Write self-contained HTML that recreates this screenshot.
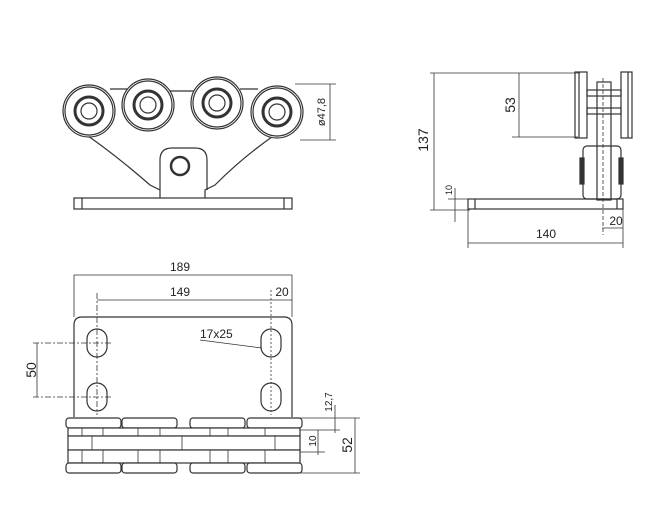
<!DOCTYPE html>
<html><head><style>body{margin:0;background:#fff}svg{display:block}text{font-family:"Liberation Sans",sans-serif;fill:#222}</style></head><body>
<svg width="650" height="520" viewBox="0 0 650 520" fill="none" stroke="#333" stroke-width="1.2">
<!-- top view -->
<path d="M72 125 Q110 150 150 185 L160 190 L160 198 M290 125 Q250 150 215 185 L205 190 L205 198"/>
<path d="M160 190 L160 160 Q160 148 172 148 L195 148 Q207 148 207 160 L207 190"/>
<line x1="110" y1="89" x2="128" y2="89"/><line x1="170" y1="91" x2="195" y2="91"/><line x1="240" y1="89" x2="258" y2="89"/>
<g fill="#fff">
<circle cx="89" cy="111" r="26"/><circle cx="148" cy="105" r="26"/><circle cx="217" cy="103" r="26"/><circle cx="277" cy="112" r="26"/>
</g>
<g>
<circle cx="89" cy="111" r="24"/><circle cx="148" cy="105" r="24"/><circle cx="217" cy="103" r="24"/><circle cx="277" cy="112" r="24"/>
<g stroke-width="3"><circle cx="89" cy="111" r="14"/><circle cx="148" cy="105" r="14"/><circle cx="217" cy="103" r="14"/><circle cx="277" cy="112" r="14"/></g>
<circle cx="89" cy="111" r="8"/><circle cx="148" cy="105" r="8"/><circle cx="217" cy="103" r="8"/><circle cx="277" cy="112" r="8"/>
</g>
<circle cx="180" cy="166" r="9" stroke-width="2.5"/>
<rect x="74" y="198" width="218" height="11"/><line x1="82" y1="198" x2="82" y2="209"/><line x1="284" y1="198" x2="284" y2="209"/>
<line x1="295" y1="84" x2="336" y2="84" stroke-width="0.8"/><line x1="300" y1="140" x2="336" y2="140" stroke-width="0.8"/>
<line x1="330" y1="84" x2="330" y2="140" stroke-width="0.8"/>
<text x="325" y="112" font-size="11" stroke="none" transform="rotate(-90 325 112)" text-anchor="middle">ø47,8</text>
<!-- side view -->
<g stroke-width="0.8">
<line x1="430" y1="73" x2="580" y2="73"/><line x1="434" y1="73" x2="434" y2="210"/><line x1="430" y1="210" x2="470" y2="210"/>
<line x1="519" y1="73" x2="519" y2="137"/><line x1="512" y1="137" x2="578" y2="137"/>
<line x1="455" y1="188" x2="455" y2="222"/><line x1="448" y1="199" x2="468" y2="199"/>
<line x1="468" y1="209" x2="468" y2="248"/><line x1="623" y1="209" x2="623" y2="248"/><line x1="468" y1="243" x2="623" y2="243"/>
<line x1="602" y1="228" x2="623" y2="228"/>
<line x1="603" y1="78" x2="603" y2="235" stroke-dasharray="4 2"/>
</g>
<text x="428" y="140" font-size="14" stroke="none" transform="rotate(-90 428 140)" text-anchor="middle">137</text>
<text x="515" y="105" font-size="14" stroke="none" transform="rotate(-90 515 105)" text-anchor="middle">53</text>
<text x="452" y="190" font-size="9" stroke="none" transform="rotate(-90 452 190)" text-anchor="middle">10</text>
<text x="546" y="238" font-size="12" stroke="none" text-anchor="middle">140</text>
<text x="616" y="225" font-size="12" stroke="none" text-anchor="middle">20</text>
<rect x="575" y="72" width="12" height="66"/><line x1="579" y1="72" x2="579" y2="138"/>
<rect x="621" y="72" width="11" height="66"/><line x1="628" y1="72" x2="628" y2="138"/>
<rect x="587" y="90" width="34" height="6"/><rect x="587" y="108" width="34" height="6"/>
<rect x="597" y="82" width="14" height="118"/>
<rect x="583" y="146" width="38" height="53" rx="4"/><rect x="580" y="158" width="4" height="26" fill="#333"/><rect x="619" y="158" width="4" height="26" fill="#333"/>
<rect x="468" y="199" width="155" height="10"/><line x1="475" y1="199" x2="475" y2="209"/><line x1="617" y1="199" x2="617" y2="209"/>
<!-- bottom view -->
<g stroke-width="0.8">
<line x1="74" y1="275" x2="74" y2="317"/><line x1="292" y1="275" x2="292" y2="317"/><line x1="74" y1="275" x2="292" y2="275"/>
<line x1="97" y1="300" x2="292" y2="300"/>
<line x1="97" y1="293" x2="97" y2="415" stroke-dasharray="6 2 2 2"/><line x1="271" y1="290" x2="271" y2="415" stroke-dasharray="2 2"/>
<line x1="33" y1="343" x2="112" y2="343" stroke-dasharray="6 2 2 2"/><line x1="33" y1="397" x2="112" y2="397" stroke-dasharray="6 2 2 2"/>
<line x1="37" y1="343" x2="37" y2="397"/>
<line x1="200" y1="340" x2="262" y2="348"/>
<line x1="300" y1="418" x2="360" y2="418"/><line x1="300" y1="473" x2="360" y2="473"/><line x1="355" y1="418" x2="355" y2="473"/>
<line x1="335" y1="405" x2="335" y2="433"/><line x1="300" y1="430" x2="340" y2="430"/>
<line x1="318" y1="430" x2="318" y2="455"/><line x1="300" y1="452" x2="325" y2="452"/>
</g>
<text x="180" y="271" font-size="12" stroke="none" text-anchor="middle">189</text>
<text x="180" y="296" font-size="12" stroke="none" text-anchor="middle">149</text>
<text x="282" y="296" font-size="12" stroke="none" text-anchor="middle">20</text>
<text x="200" y="338" font-size="12" stroke="none">17x25</text>
<text x="36" y="370" font-size="14" stroke="none" transform="rotate(-90 36 370)" text-anchor="middle">50</text>
<text x="332" y="402" font-size="10" stroke="none" transform="rotate(-90 332 402)" text-anchor="middle">12,7</text>
<text x="316" y="441" font-size="10" stroke="none" transform="rotate(-90 316 441)" text-anchor="middle">10</text>
<text x="352" y="445" font-size="14" stroke="none" transform="rotate(-90 352 445)" text-anchor="middle">52</text>
<path d="M74 417 L74 325 Q74 317 82 317 L284 317 Q292 317 292 325 L292 417"/>
<rect x="87" y="329" width="20" height="28" rx="10"/><rect x="87" y="383" width="20" height="28" rx="10"/>
<rect x="261" y="329" width="20" height="28" rx="10"/><rect x="261" y="383" width="20" height="28" rx="10"/>
<g fill="#fff">
<rect x="66" y="418" width="55" height="10" rx="3"/><rect x="122" y="418" width="55" height="10" rx="3"/><rect x="190" y="418" width="55" height="10" rx="3"/><rect x="247" y="418" width="55" height="10" rx="3"/>
<rect x="68" y="428" width="232" height="8"/>
<rect x="68" y="436" width="232" height="14"/>
<rect x="68" y="450" width="232" height="13"/>
<rect x="66" y="463" width="55" height="10" rx="3"/><rect x="122" y="463" width="55" height="10" rx="3"/><rect x="190" y="463" width="55" height="10" rx="3"/><rect x="247" y="463" width="55" height="10" rx="3"/>
</g>
<g stroke-width="0.8">
<line x1="82" y1="428" x2="82" y2="436"/><line x1="103" y1="428" x2="103" y2="436"/><line x1="138" y1="428" x2="138" y2="436"/><line x1="160" y1="428" x2="160" y2="436"/><line x1="210" y1="428" x2="210" y2="436"/><line x1="228" y1="428" x2="228" y2="436"/><line x1="265" y1="428" x2="265" y2="436"/>
<line x1="92" y1="436" x2="92" y2="450"/><line x1="182" y1="436" x2="182" y2="450"/><line x1="275" y1="436" x2="275" y2="450"/>
<line x1="82" y1="450" x2="82" y2="463"/><line x1="103" y1="450" x2="103" y2="463"/><line x1="138" y1="450" x2="138" y2="463"/><line x1="160" y1="450" x2="160" y2="463"/><line x1="210" y1="450" x2="210" y2="463"/><line x1="228" y1="450" x2="228" y2="463"/><line x1="265" y1="450" x2="265" y2="463"/>
</g>
</svg>
</body></html>
